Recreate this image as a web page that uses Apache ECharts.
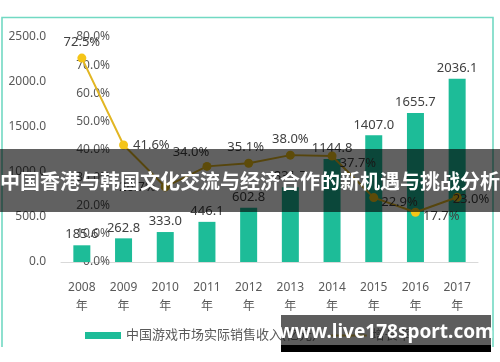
<!DOCTYPE html>
<html><head><meta charset="utf-8">
<script src="https://cdn.jsdelivr.net/npm/echarts@6/dist/echarts.min.js"></script>
<style>html,body{margin:0;padding:0;background:#fff}#c{width:500px;height:362px}</style>
</head><body><div id="c"></div>
<script>
var categories = ['2008\n年','2009\n年','2010\n年','2011\n年','2012\n年','2013\n年','2014\n年','2015\n年','2016\n年','2017\n年'];
var revenue = [185.6, 262.8, 333.0, 446.1, 602.8, 831.7, 1144.8, 1407.0, 1655.7, 2036.1];
var growth = [72.5, 41.6, 26.7, 34.0, 35.1, 38.0, 37.7, 22.9, 17.7, 23.0];
var leftTicks = [0, 500, 1000, 1500, 2000, 2500];
var rightTicks = [0, 10, 20, 30, 40, 50, 60, 70, 80];
var barName = '中国游戏市场实际销售收入(亿元)';
var lineName = '增长率';
var titleText = '中国香港与韩国文化交流与经济合作的新机遇与挑战分析';
var watermark = 'www.live178sport.com';

var labelPos = [
  {position:'top'}, {position:'right'}, {position:'left'}, {position:'top', offset:[-16,2]},
  {position:'top', offset:[-3,0]}, {position:'top'}, {position:'right', offset:[-2,7]},
  {position:'right', offset:[-2,5]}, {position:'right', offset:[-2,4]}, {position:'right', offset:[-14,2]}
];
var lineData = growth.map(function(v,i){ return {value:v, label:labelPos[i]}; });

var chart = echarts.init(document.getElementById('c'));
var font = '"Noto Sans","Noto Sans CJK SC",sans-serif';
chart.setOption({
  animation:false,
  textStyle:{fontFamily:font},
  grid:{left:61, right:22, top:37, bottom:100},
  legend:{
    top:324, left:80, itemWidth:36, itemHeight:7, itemGap:14,
    textStyle:{fontSize:13, color:'#595959', fontFamily:font},
    data:[{name:barName, icon:'rect'}, {name:lineName}]
  },
  xAxis:{
    type:'category', data:categories,
    axisTick:{show:false},
    axisLine:{lineStyle:{color:'#d9d9d9', width:1}},
    axisLabel:{color:'#595959', fontSize:12, lineHeight:19, margin:16}
  },
  yAxis:[
    {type:'value', min:leftTicks[0], max:leftTicks[leftTicks.length-1], interval:500,
     splitLine:{show:false}, axisLine:{show:false}, axisTick:{show:false},
     axisLabel:{color:'#595959', fontSize:12, margin:15, formatter:function(v){return v.toFixed(1);}}},
    {type:'value', position:'left', offset:-57, min:rightTicks[0], max:rightTicks[rightTicks.length-1], interval:10,
     splitLine:{show:false}, axisLine:{show:false}, axisTick:{show:false},
     axisLabel:{color:'#595959', fontSize:12, margin:8, formatter:function(v){return v.toFixed(1)+'%';}}}
  ],
  series:[
    {name:barName, type:'bar', data:revenue, barWidth:17, yAxisIndex:0,
     itemStyle:{color:'#1dbc98'},
     label:{show:true, position:'top', color:'#404040', fontSize:13, distance:4, formatter:function(p){return p.value.toFixed(1);}}},
    {name:lineName, type:'line', data:lineData, yAxisIndex:1,
     symbol:'circle', symbolSize:9,
     lineStyle:{color:'#e2b623', width:2},
     itemStyle:{color:'#f5c518'},
     label:{show:true, color:'#404040', fontSize:13, formatter:function(p){return p.value.toFixed(1)+'%';}}}
  ],
  graphic:[
    {type:'polyline', z:50, shape:{points:[[2,347],[2,17.5],[493,17.5],[493,347]]}, style:{stroke:'#72d9c3', lineWidth:1.6, fill:null}},
    {type:'rect', z:100, shape:{x:0, y:149, width:500, height:63}, style:{fill:'rgba(0,0,0,0.62)'}},
    {type:'text', z:101, x:250, y:181, style:{text:titleText, fill:'#fff', font:'bold 20px "Noto Sans CJK SC", sans-serif', align:'center', verticalAlign:'middle'}},
    {type:'rect', z:100, shape:{x:281, y:315, width:210, height:30}, style:{fill:'rgba(30,30,30,0.72)'}},
    {type:'rect', z:100, shape:{x:281, y:345, width:210, height:7}, style:{fill:'#000'}},
    {type:'text', z:101, x:386, y:333, style:{text:watermark, fill:'#fff', font:'bold 19px "Noto Sans", sans-serif', align:'center', verticalAlign:'middle'}}
  ]
});
</script></body></html>
